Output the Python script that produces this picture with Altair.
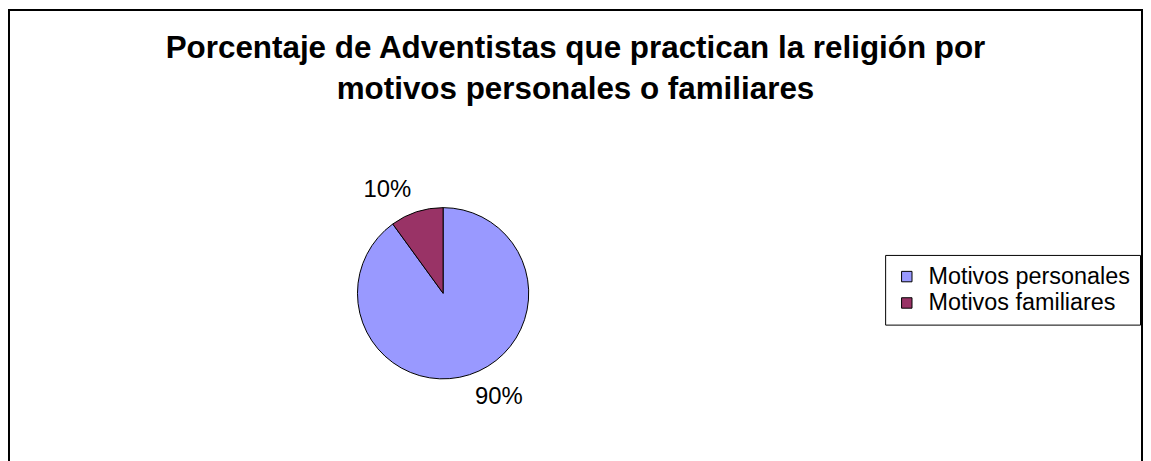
import altair as alt
import pandas as pd

categorias = ["Motivos personales", "Motivos familiares"]
porcentajes = [90, 10]
etiquetas = ["90%", "10%"]
colores = ["#9999FF", "#993366"]
titulo = ["Porcentaje de Adventistas que practican la religión por",
          "motivos personales o familiares"]

df = pd.DataFrame({"categoria": categorias, "valor": porcentajes, "etiqueta": etiquetas})

FONT = "Liberation Sans"
W, H = 1138, 462
CX, CY = 436, 284.5
R = 86

color = alt.Color(
    "categoria:N",
    scale=alt.Scale(domain=categorias, range=colores),
    legend=alt.Legend(
        title=None, orient="none", legendX=880, legendY=246,
        symbolType="square", symbolSize=110, symbolStrokeColor="black",
        symbolStrokeWidth=1, symbolOpacity=1,
        labelFont=FONT, labelFontSize=23.5, labelColor="black", labelLimit=0,
        labelOffset=10, rowPadding=1.5, padding=10,
        strokeColor="black", fillColor="white",
    ),
)

base = alt.Chart(df).encode(
    theta=alt.Theta("valor:Q", stack=True),
    order=alt.Order("categoria:N", sort="descending"),
)

pie = base.mark_arc(outerRadius=R, stroke="black", strokeWidth=1).encode(
    color=color, x=alt.value(CX), y=alt.value(CY)
)

labels = base.mark_text(
    radius=118, thetaOffset=-0.18, font=FONT, fontSize=24, color="black",
    align="center", baseline="middle",
).encode(text="etiqueta:N", x=alt.value(CX), y=alt.value(CY))

title = alt.Chart(pd.DataFrame({"t": [0]})).mark_text(
    font=FONT, fontSize=31.5, fontWeight="bold", color="black",
    align="center", baseline="alphabetic", lineHeight=41,
).encode(x=alt.value(W / 2), y=alt.value(48), text=alt.value(titulo))

chart = (
    alt.layer(pie, labels, title)
    .properties(
        width=W, height=H,
        autosize=alt.AutoSizeParams(type="none"),
        padding={"left": 1, "top": 1, "right": 1, "bottom": 0},
        background="white",
    )
    .configure_view(stroke="black", strokeWidth=2)
)

chart.save("out.html", embed_options={"renderer": "svg", "actions": False})
